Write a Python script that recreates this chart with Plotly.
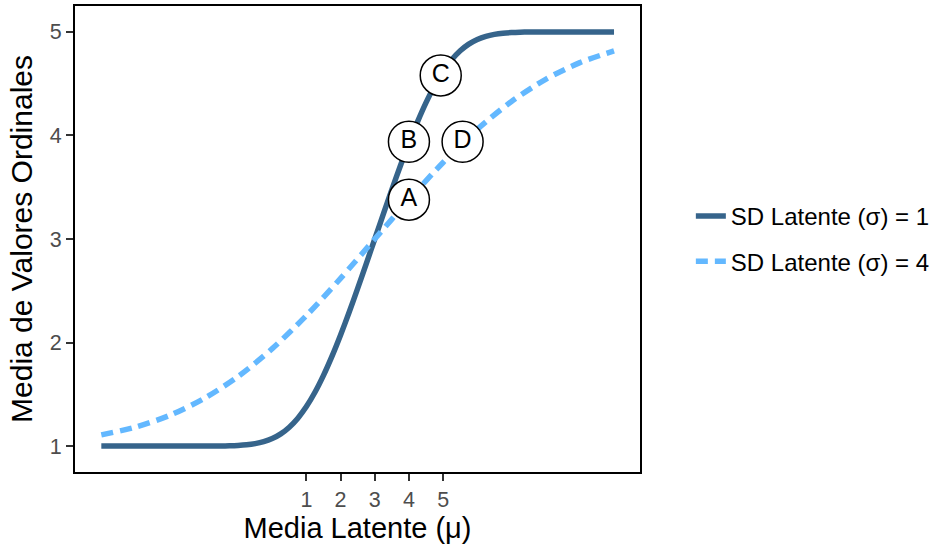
import plotly.graph_objects as go

# Latent mean (x) and mean ordinal value for latent SD = 1
mu_sd1 = [-5, -4.5, -4, -3.5, -3, -2.5, -2, -1.5, -1.25, -1, -0.75, -0.5, -0.25, 0, 0.25, 0.5, 0.75,
          1, 1.25, 1.5, 1.75, 2, 2.25, 2.5, 2.75, 3, 3.25, 3.5, 3.75, 4, 4.25, 4.5, 4.75,
          5, 5.25, 5.5, 5.75, 6, 6.25, 6.5, 6.75, 7, 7.25, 7.5, 8, 8.5, 9, 9.5, 10]
mean_sd1 = [1.0, 1.0, 1.0, 1.0, 1.0, 1.0, 1.0002, 1.0014, 1.0031, 1.0065, 1.0128, 1.0242, 1.0431, 1.0732, 1.1185, 1.1829, 1.2698,
            1.3817, 1.5197, 1.6828, 1.8684, 2.073, 2.2925, 2.5228, 2.7598, 3.0, 3.2402, 3.4772, 3.7075, 3.927, 4.1316, 4.3172, 4.4803,
            4.6183, 4.7302, 4.8171, 4.8815, 4.9268, 4.9569, 4.9758, 4.9872, 4.9935, 4.9969, 4.9986, 4.9998, 5.0, 5.0, 5.0, 5.0]

# Latent mean (x) and mean ordinal value for latent SD = 4
mu_sd4 = [-5, -4, -3, -2, -1, 0, 1, 2, 3, 4, 5, 6, 7, 8, 9, 10]
mean_sd4 = [1.108, 1.184, 1.297, 1.458, 1.672, 1.941, 2.261, 2.620, 3.0, 3.380, 3.739, 4.059, 4.328, 4.542, 4.703, 4.816]

# Labelled points
point_labels = ["A", "B", "C", "D"]
point_x = [4.0, 4.0, 4.93, 5.57]
point_y = [3.38, 3.94, 4.58, 3.94]

x_ticks = [1, 2, 3, 4, 5]
y_ticks = [1, 2, 3, 4, 5]

series_names = ["SD Latente (σ) = 1", "SD Latente (σ) = 4"]
FONT = "Liberation Sans, Arial, sans-serif"

fig = go.Figure()
fig.add_trace(go.Scatter(
    x=mu_sd1, y=mean_sd1, mode="lines", name=series_names[0],
    line=dict(color="#36648B", width=5.5, shape="spline", smoothing=0.6),
    legendgroup="g1"))
fig.add_trace(go.Scatter(
    x=mu_sd4, y=mean_sd4, mode="lines", name=series_names[1],
    line=dict(color="#63B8FF", width=5.5, dash="12px,7px", shape="spline", smoothing=0.8),
    legendgroup="g2"))
fig.add_trace(go.Scatter(
    x=point_x, y=point_y, mode="markers+text", text=point_labels,
    textposition="middle center",
    textfont=dict(family=FONT, size=25, color="black"),
    marker=dict(size=41, color="white", line=dict(color="black", width=1.5)),
    showlegend=False, hoverinfo="skip"))

axis_common = dict(
    showgrid=False, zeroline=False, showline=True, linecolor="black", linewidth=1.8,
    mirror=True, ticks="outside", ticklen=7, tickwidth=2, tickcolor="#333333",
    tickfont=dict(family=FONT, size=21.5, color="#4D4D4D"),
)

fig.update_layout(
    width=930, height=548,
    margin=dict(l=75, r=290, t=6, b=76, autoexpand=False),
    paper_bgcolor="white", plot_bgcolor="white",
    font=dict(family=FONT, color="black"),
    xaxis=dict(range=[-5.77, 10.76], tickvals=x_ticks,
               title=dict(text="Media Latente (μ)", font=dict(family=FONT, size=29, color="black"), standoff=6),
               **axis_common),
    yaxis=dict(range=[0.75, 5.25], tickvals=y_ticks,
               title=dict(text="Media de Valores Ordinales", font=dict(family=FONT, size=30, color="black"), standoff=8),
               **axis_common),
    legend=dict(x=1.09, xanchor="left", y=0.5, yanchor="middle",
                font=dict(family=FONT, size=24, color="black"),
                tracegroupgap=11, bgcolor="rgba(0,0,0,0)"),
    showlegend=True,
)

fig.write_html("out.html")
